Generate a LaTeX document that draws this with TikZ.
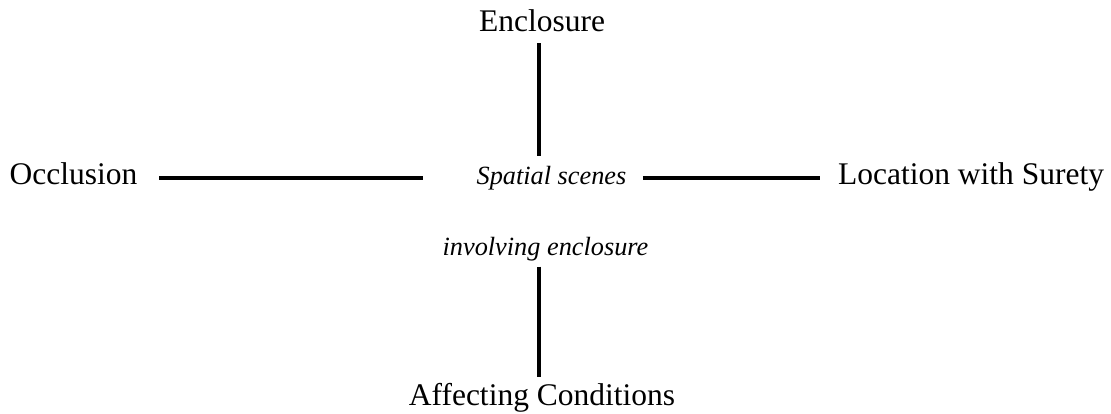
\documentclass[tikz,border=0pt]{standalone}
\usepackage{fontspec}
\setmainfont{Liberation Serif}
\begin{document}
\begin{tikzpicture}[x=1pt,y=-1pt,
  term/.style={inner sep=0pt,outer sep=0pt,anchor=base,font=\fontsize{31.5}{36}\selectfont},
  hub/.style={inner sep=0pt,outer sep=0pt,anchor=base,font=\fontsize{26.3}{30}\selectfont\itshape},
  conn/.style={line width=4pt}]
\useasboundingbox (0,0) rectangle (1111,413);

% labels
\node[term] (enc) at (542,31) {Enclosure};
\node[hub]  (scene) at (551.5,184) {Spatial scenes};
\node[hub]  (inv) at (545.5,255) {involving enclosure};
\node[term] (occ) at (73.5,184) {Occlusion};
\node[term] (loc) at (971,184) {Location with Surety};
\node[term] (aff) at (542,405) {Affecting Conditions};

% guide coordinates for the connector axes
\coordinate (hy) at (0,177.5);
\coordinate (vx) at (538.5,0);

% connectors
\draw[conn,shorten <=12pt,shorten >=10pt] (enc.south -| vx) -- (scene.north -| vx);
\draw[conn,shorten <=6pt,shorten >=5.5pt] (inv.south -| vx) -- (aff.north -| vx);
\draw[conn,shorten <=22pt,shorten >=54pt] (occ.east |- hy) -- (scene.west |- hy);
\draw[conn,shorten <=16.5pt,shorten >=18pt] (scene.east |- hy) -- (loc.west |- hy);
\end{tikzpicture}
\end{document}
